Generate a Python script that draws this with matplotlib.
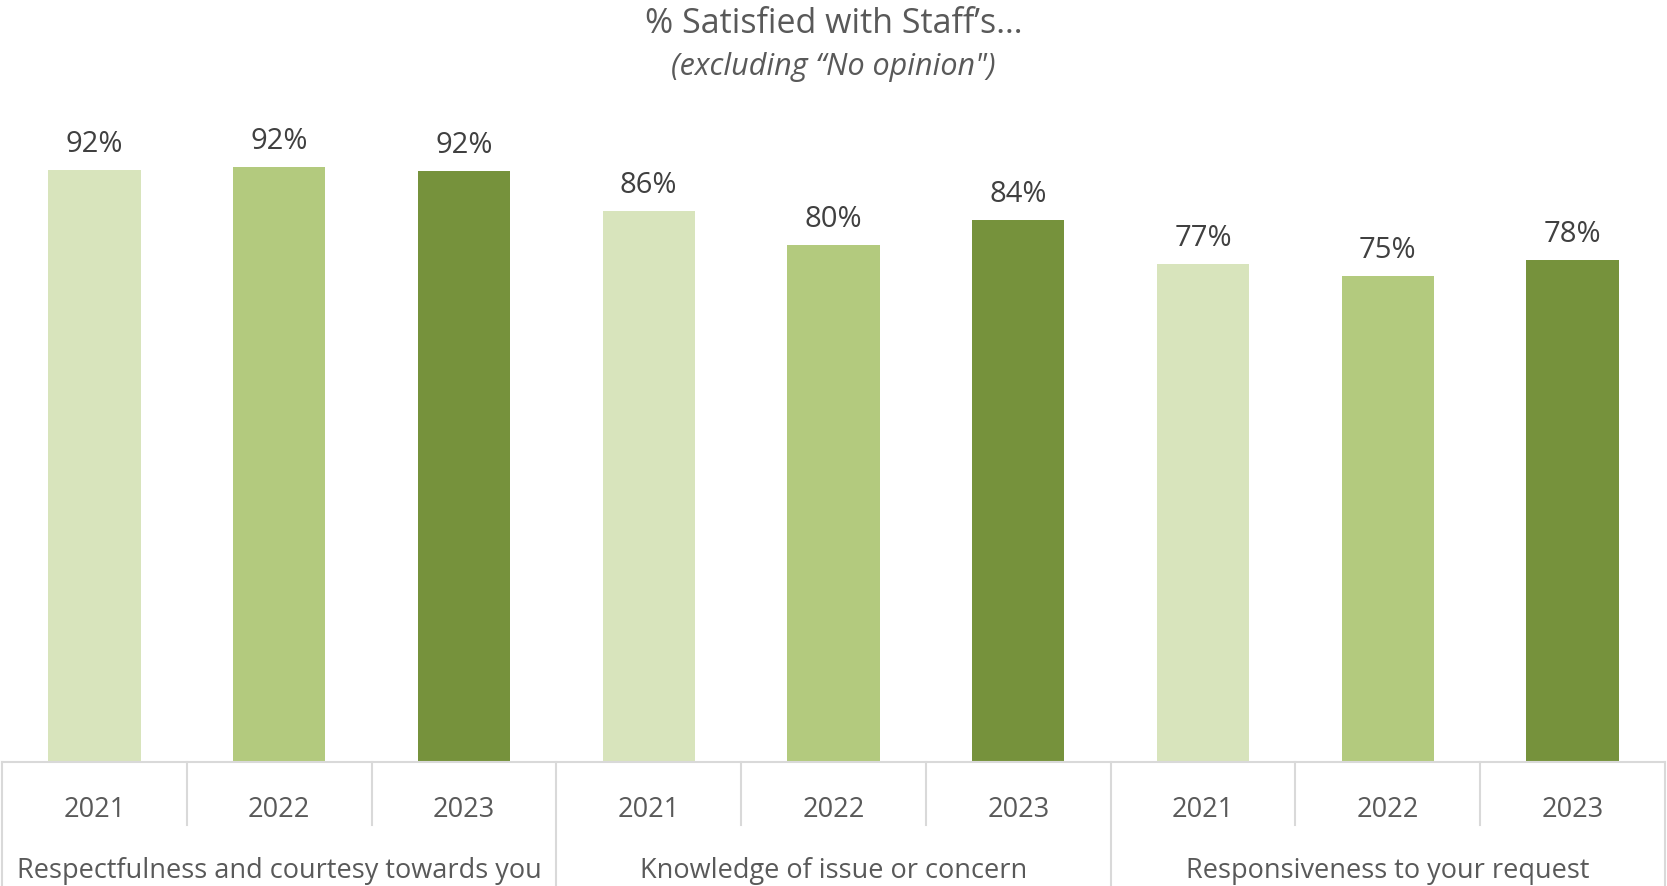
import matplotlib.pyplot as plt
import numpy as np
from matplotlib.transforms import blended_transform_factory

plt.rcParams["font.family"] = ["Open Sans", "DejaVu Sans"]

groups = ["Respectfulness and courtesy towards you",
          "Knowledge of issue or concern",
          "Responsiveness to your request"]
years = ["2021", "2022", "2023"]
respect = [91.9, 92.4, 91.8]
knowledge = [85.6, 80.3, 84.2]
responsive = [77.3, 75.4, 77.9]
colors = ["#D8E4BC", "#B3CA7E", "#76923C"]

values = respect + knowledge + responsive
x = np.arange(len(values))
bar_colors = colors * len(groups)

W, H = 1667, 886
fig = plt.figure(figsize=(W / 100, H / 100), dpi=100)
ax = fig.add_axes([2 / W, 124 / H, 1663 / W, 644 / H])

bars = ax.bar(x, values, width=0.5, color=bar_colors, zorder=2)
for xi, v in zip(x, values):
    ax.annotate(f"{v:.0f}%", (xi, v), xytext=(0, 13), textcoords="offset points",
                ha="center", va="baseline", fontsize=21, color="#404040")

ax.set_xlim(-0.5, len(values) - 0.5)
ax.set_ylim(0, 100)
ax.set_xticks([])
ax.set_yticks([])
for side in ["top", "right", "left"]:
    ax.spines[side].set_visible(False)
ax.spines["bottom"].set_color("#d9d9d9")
ax.spines["bottom"].set_linewidth(1.5)

# category axis: year labels, group labels and separator lines
tr = blended_transform_factory(ax.transData, fig.transFigure)
y_axis = 124 / H
for i in range(len(values) + 1):
    edge = i - 0.5
    bottom = 0 if i % 3 == 0 else 61 / H
    ax.plot([edge, edge], [y_axis, bottom], transform=tr, color="#d9d9d9",
            lw=1.5, clip_on=False)
for xi, yr in zip(x, years * len(groups)):
    ax.text(xi, 69 / H, yr, transform=tr, ha="center", va="baseline",
            fontsize=19.5, color="#595959")
for g, name in enumerate(groups):
    ax.text(3 * g + 1, 8 / H, name, transform=tr, ha="center", va="baseline",
            fontsize=19.5, color="#595959")

fig.text(0.5, 1 - 33 / H, "% Satisfied with Staff\u2019s\u2026", ha="center",
         va="baseline", fontsize=24.5, color="#595959")
fig.text(0.5, 1 - 75 / H, "(excluding \u201cNo opinion\")", ha="center",
         va="baseline", fontsize=22, style="italic", color="#595959")

fig.savefig("out.png", dpi=100)
